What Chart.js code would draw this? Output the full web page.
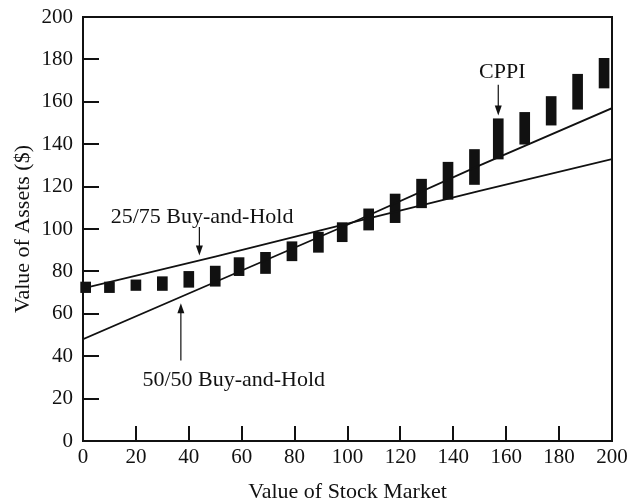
<!DOCTYPE html>
<html>
<head>
<meta charset="utf-8">
<script src="https://cdn.jsdelivr.net/npm/chart.js@4"></script>
<style>
  html, body { margin: 0; padding: 0; background: #fff; }
  #wrap { width: 636px; height: 503px; }
</style>
</head>
<body>
<div id="wrap"><canvas id="chart"></canvas></div>
<script>
// 데이터: CPPI 범위 막대 (주식시장 가치별 최저/최고 자산가치)
const cppiX  = [1, 10, 20, 30, 40, 50, 59, 69, 79, 89, 98, 108, 118, 128, 138, 148, 157, 167, 177, 187, 197];
const cppiLo = [70, 70, 71, 71, 72.5, 73, 78, 79, 85, 89, 94, 99.5, 103, 110, 114, 121, 133, 140, 149, 156.5, 166.5];
const cppiHi = [75, 75, 76, 77.5, 80, 82.5, 86.5, 89, 94, 98.5, 103, 109.5, 116.5, 123.5, 131.5, 137.5, 152, 155, 162.5, 173, 180.5];

// 매수 후 보유 전략 직선
const lineX    = [0, 50, 100, 150, 200];
const bh2575   = [72, 87, 102.5, 118, 133];
const bh5050   = [48, 75, 102, 130, 157];

const xTicks = [0, 20, 40, 60, 80, 100, 120, 140, 160, 180, 200];
const yTicks = [0, 20, 40, 60, 80, 100, 120, 140, 160, 180, 200];

// 주석 (데이터 좌표)
const notes = [
    { text: '25/75 Buy-and-Hold', x: 45, y: 103, arrow: [44, 101, 44, 87.5] },
    { text: '50/50 Buy-and-Hold', x: 57, y: 26, arrow: [37, 38, 37, 65] },
    { text: 'CPPI', x: 158.5, y: 171, arrow: [157, 168, 157, 153.5] },
];

const FONT = '"Liberation Serif", "Times New Roman", serif';
const INK = '#111';

const frameAndNotes = {
    id: 'frameAndNotes',
    afterDatasetsDraw(chart) {
        const { ctx, chartArea: a, scales: { x, y } } = chart;
        ctx.save();
        ctx.strokeStyle = INK;
        ctx.lineWidth = 2;
        ctx.strokeRect(a.left, a.top, a.right - a.left, a.bottom - a.top);

        // 안쪽 눈금
        yTicks.forEach(v => {
            if (v === 0 || v === 200) return;
            const py = Math.round(y.getPixelForValue(v));
            ctx.beginPath();
            ctx.moveTo(a.left, py);
            ctx.lineTo(a.left + 16, py);
            ctx.stroke();
        });
        xTicks.forEach(v => {
            if (v === 0 || v === 200) return;
            const px = Math.round(x.getPixelForValue(v));
            ctx.beginPath();
            ctx.moveTo(px, a.bottom);
            ctx.lineTo(px, a.bottom - 15);
            ctx.stroke();
        });

        // 주석 텍스트와 화살표
        ctx.fillStyle = INK;
        ctx.font = '22px ' + FONT;
        ctx.textAlign = 'center';
        ctx.textBaseline = 'alphabetic';
        ctx.lineWidth = 1.2;
        notes.forEach(n => {
            ctx.fillText(n.text, x.getPixelForValue(n.x), y.getPixelForValue(n.y));
            const [x1, y1, x2, y2] = n.arrow;
            const px = x.getPixelForValue(x1);
            const p1 = y.getPixelForValue(y1);
            const p2 = y.getPixelForValue(y2);
            const dir = p2 > p1 ? 1 : -1;
            ctx.beginPath();
            ctx.moveTo(px, p1);
            ctx.lineTo(px, p2 - dir * 6);
            ctx.stroke();
            ctx.beginPath();
            ctx.moveTo(px, p2);
            ctx.lineTo(px - 3.5, p2 - dir * 10);
            ctx.lineTo(px + 3.5, p2 - dir * 10);
            ctx.closePath();
            ctx.fill();
        });
        ctx.restore();
    }
};

new Chart(document.getElementById('chart'), {
    type: 'bar',
    data: {
        datasets: [
            {
                type: 'line',
                label: '25/75 Buy-and-Hold',
                data: lineX.map((v, i) => ({ x: v, y: bh2575[i] })),
                borderColor: INK,
                borderWidth: 1.8,
                pointRadius: 0,
                fill: false,
            },
            {
                type: 'line',
                label: '50/50 Buy-and-Hold',
                data: lineX.map((v, i) => ({ x: v, y: bh5050[i] })),
                borderColor: INK,
                borderWidth: 1.8,
                pointRadius: 0,
                fill: false,
            },
            {
                type: 'bar',
                label: 'CPPI',
                data: cppiX.map((v, i) => ({ x: v, y: [cppiLo[i], cppiHi[i]] })),
                backgroundColor: INK,
                borderWidth: 0,
                barThickness: 10,
                clip: false,
            },
        ]
    },
    options: {
        responsive: true,
        maintainAspectRatio: false,
        animation: false,
        layout: { padding: { left: 10, right: 24, top: 17, bottom: 0 } },
        plugins: {
            legend: { display: false },
            tooltip: { enabled: false },
        },
        scales: {
            x: {
                type: 'linear',
                min: 0,
                max: 200,
                offset: false,
                afterBuildTicks: s => { s.ticks = xTicks.map(v => ({ value: v })); },
                afterFit: s => { s.height = 62; s.paddingLeft = 0; s.paddingRight = 0; },
                grid: { display: false, drawTicks: false },
                border: { display: false },
                ticks: { color: INK, font: { family: FONT, size: 21 }, padding: 4, maxRotation: 0, autoSkip: false },
                title: { display: true, text: 'Value of Stock Market', color: INK, font: { family: FONT, size: 22, lineHeight: 1 }, padding: { top: 0, bottom: 0 } },
            },
            y: {
                min: 0,
                max: 200,
                afterBuildTicks: s => { s.ticks = yTicks.map(v => ({ value: v })); },
                afterFit: s => { s.width = 73; s.paddingTop = 0; s.paddingBottom = 0; },
                grid: { display: false, drawTicks: false },
                border: { display: false },
                ticks: { color: INK, font: { family: FONT, size: 21 }, padding: 10, autoSkip: false },
                title: { display: true, text: 'Value of Assets ($)', color: INK, font: { family: FONT, size: 22 }, padding: { top: 0, bottom: 0 } },
            },
        },
    },
    plugins: [frameAndNotes],
});
</script>
</body>
</html>
